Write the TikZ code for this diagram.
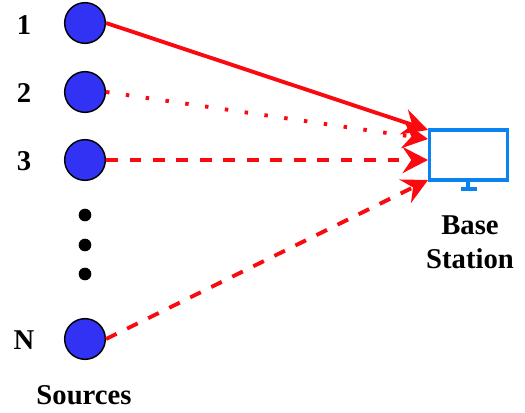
\documentclass[tikz,border=0pt]{standalone}
\usepackage{fontspec}
\setmainfont{Liberation Serif}
\usetikzlibrary{arrows.meta}
\definecolor{srcblue}{RGB}{50,50,245}
\definecolor{linkred}{RGB}{250,10,15}
\definecolor{bsblue}{RGB}{10,130,240}
\tikzset{
 src/.style={circle,draw=black,line width=1.1pt,fill=srcblue,minimum size=30.5pt,inner sep=0pt},
 lbl/.style={font=\bfseries\fontsize{21.5pt}{25.5pt}\selectfont,text=black,inner sep=0pt,align=center},
 link/.style={draw=linkred,line width=2.9pt,-{Stealth[length=19pt,width=19.5pt,inset=6.5pt]}},
 dotty/.style={circle,fill=black,minimum size=9.5pt,inner sep=0pt},
 dashlink/.style={dash pattern=on 8.8pt off 8.8pt},
 dotlink/.style={dash pattern=on 2.6pt off 12.4pt}
}
\begin{document}
\begin{tikzpicture}[x=0.75pt,y=-0.75pt]
\useasboundingbox (0,0) rectangle (525,413);
\node[src] (s1) at (85,23) {};
\node[src] (s2) at (85,92) {};
\node[src] (s3) at (85,160) {};
\node[src] (sn) at (85,339) {};
\node[dotty] (d1) at (85,215) {};
\node[dotty] (d2) at (85,245) {};
\node[dotty] (d3) at (85,274) {};
\node[lbl] (l1) at (24,25) {1};
\node[lbl] (l2) at (24,93) {2};
\node[lbl] (l3) at (24,161) {3};
\node[lbl] (ln) at (24,340) {N};
\node[lbl] (src) at (84,395) {Sources};
\node[draw=bsblue,line width=2.8pt,minimum width=58.5pt,minimum height=37pt,inner sep=0pt] (bs) at (468.5,155) {};
\coordinate (st) at (468,181);
\coordinate (sb) at (468,189);
\coordinate (fa) at (461,189);
\coordinate (fb) at (477,189);
\draw[bsblue,line width=2.8pt] (st) -- (sb);
\draw[bsblue,line width=2.8pt] (fa) -- (fb);
\node[lbl] (bl) at (470,242) {Base\\Station};
\coordinate (t1) at (428,130);
\coordinate (t2) at (428,139);
\coordinate (t3) at (428,160);
\coordinate (tn) at (428,180);
\draw[link] (s1.east) -- (t1);
\draw[link,dotlink] (s2.east) -- (t2);
\draw[link,dashlink] (s3.east) -- (t3);
\draw[link,dashlink] (sn.east) -- (tn);
\end{tikzpicture}
\end{document}
